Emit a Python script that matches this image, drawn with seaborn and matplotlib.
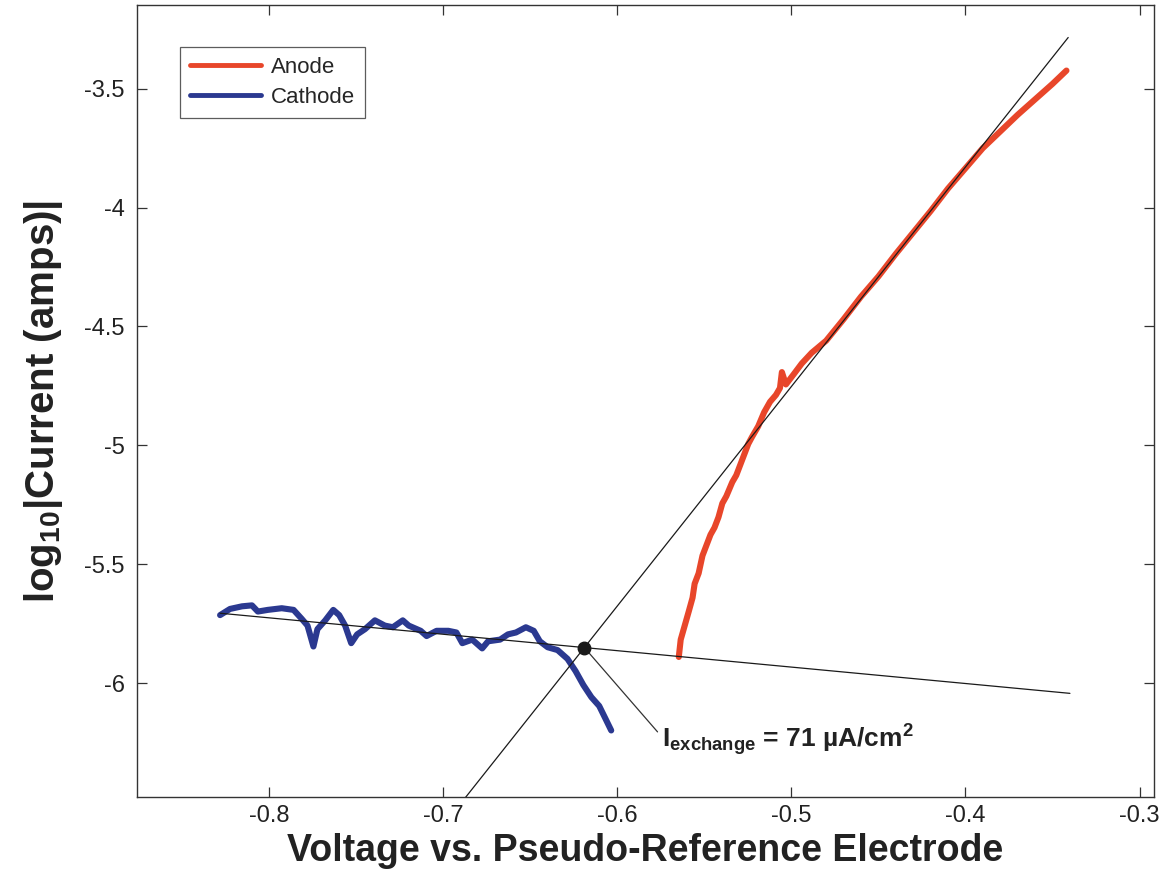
import numpy as np
import pandas as pd
import matplotlib
matplotlib.use("Agg")
import matplotlib.pyplot as plt
import seaborn as sns

# ---------------- data ----------------
cathode_v = [-0.8280, -0.8223, -0.8154, -0.8097, -0.8063, -0.8006, -0.7926, -0.7858,
             -0.7812, -0.7778, -0.7744, -0.7721, -0.7676, -0.7630, -0.7596, -0.7562,
             -0.7527, -0.7493, -0.7448, -0.7391, -0.7334, -0.7288, -0.7231, -0.7197,
             -0.7128, -0.7094, -0.7037, -0.6969, -0.6923, -0.6889, -0.6832, -0.6775,
             -0.6741, -0.6672, -0.6627, -0.6581, -0.6524, -0.6479, -0.6444, -0.6399,
             -0.6342, -0.6285, -0.6239, -0.6194, -0.6148, -0.6103, -0.6068, -0.6034]
cathode_logi = [-5.714, -5.688, -5.677, -5.673, -5.699, -5.692, -5.685, -5.692,
                -5.729, -5.758, -5.846, -5.773, -5.736, -5.692, -5.714, -5.758,
                -5.832, -5.795, -5.773, -5.736, -5.758, -5.765, -5.736, -5.758,
                -5.780, -5.802, -5.780, -5.780, -5.787, -5.832, -5.817, -5.854,
                -5.824, -5.817, -5.795, -5.787, -5.765, -5.780, -5.824, -5.849,
                -5.861, -5.898, -5.949, -6.008, -6.059, -6.096, -6.148, -6.199]

anode_v = [-0.5646, -0.5635, -0.5612, -0.5589, -0.5567, -0.5555, -0.5532, -0.5510,
           -0.5487, -0.5464, -0.5441, -0.5418, -0.5396, -0.5373, -0.5339, -0.5316,
           -0.5293, -0.5270, -0.5247, -0.5225, -0.5190, -0.5156, -0.5122, -0.5088,
           -0.5065, -0.5054, -0.5031, -0.4985, -0.4940, -0.4883, -0.4800, -0.4700,
           -0.4600, -0.4500, -0.4400, -0.4300, -0.4200, -0.4100, -0.4000, -0.3900,
           -0.3800, -0.3700, -0.3600, -0.3500, -0.3420]
anode_logi = [-5.890, -5.817, -5.758, -5.699, -5.641, -5.582, -5.538, -5.464,
              -5.420, -5.376, -5.346, -5.302, -5.244, -5.214, -5.155, -5.126,
              -5.082, -5.038, -4.994, -4.964, -4.920, -4.861, -4.817, -4.788,
              -4.759, -4.692, -4.744, -4.700, -4.656, -4.611, -4.560, -4.470,
              -4.375, -4.290, -4.195, -4.105, -4.015, -3.920, -3.835, -3.750,
              -3.680, -3.610, -3.545, -3.480, -3.424]

anode_fit_v = [-0.687, -0.341]
anode_fit_logi = [-6.48, -3.285]
cathode_fit_v = [-0.828, -0.340]
cathode_fit_logi = [-5.706, -6.043]

x_ticks = [-0.8, -0.7, -0.6, -0.5, -0.4, -0.3]
x_tick_labels = ["-0.8", "-0.7", "-0.6", "-0.5", "-0.4", "-0.3"]
y_ticks = [-6.0, -5.5, -5.0, -4.5, -4.0, -3.5]
y_tick_labels = ["-6", "-5.5", "-5", "-4.5", "-4", "-3.5"]

series_names = ["Anode", "Cathode"]
series_colors = {"Anode": "#E8462A", "Cathode": "#2B3990"}

annot_text = r"I$_{\mathbf{exchange}}$ = 71 µA/cm$^{\mathbf{2}}$"
annot_text_pos = (-0.5745, -6.24)
annot_line_end = (-0.5768, -6.205)

# ---------------- styling ----------------
sns.set_style("ticks")
plt.rcParams["font.family"] = ["Liberation Sans", "DejaVu Sans"]
plt.rcParams["mathtext.fontset"] = "custom"
plt.rcParams["mathtext.rm"] = "Liberation Sans"
plt.rcParams["mathtext.it"] = "Liberation Sans:italic"
plt.rcParams["mathtext.bf"] = "Liberation Sans:bold"

df = pd.concat([
    pd.DataFrame({"v": anode_v, "logi": anode_logi, "series": "Anode"}),
    pd.DataFrame({"v": cathode_v, "logi": cathode_logi, "series": "Cathode"}),
], ignore_index=True)

fig = plt.figure(figsize=(11.67, 8.75), dpi=100)
ax = fig.add_axes([0.1174, 0.0891, 0.8715, 0.905])

for name in series_names:
    sub = df[df["series"] == name]
    sns.lineplot(data=sub, x="v", y="logi", sort=False, estimator=None,
                 color=series_colors[name], lw=4.4, ax=ax, label=name, zorder=2)

# Tafel fit lines
ax.plot(anode_fit_v, anode_fit_logi, color="#1a1a1a", lw=0.9, zorder=3)
ax.plot(cathode_fit_v, cathode_fit_logi, color="#1a1a1a", lw=0.9, zorder=3)

# intersection of the two fits
sa = (anode_fit_logi[1] - anode_fit_logi[0]) / (anode_fit_v[1] - anode_fit_v[0])
sc = (cathode_fit_logi[1] - cathode_fit_logi[0]) / (cathode_fit_v[1] - cathode_fit_v[0])
ba = anode_fit_logi[0] - sa * anode_fit_v[0]
bc = cathode_fit_logi[0] - sc * cathode_fit_v[0]
vi = (bc - ba) / (sa - sc)
yi = sa * vi + ba
ax.plot([vi], [yi], "o", color="#1a1a1a", ms=9, zorder=5)
ax.plot([vi, annot_line_end[0]], [yi, annot_line_end[1]], color="#333333", lw=0.9, zorder=4)
ax.text(annot_text_pos[0], annot_text_pos[1], annot_text, fontsize=19,
        fontweight="bold", ha="left", va="center", color="#222222")

ax.set_xlim(-0.8757, -0.2917)
ax.set_ylim(-6.479, -3.149)
ax.set_xticks(x_ticks)
ax.set_xticklabels(x_tick_labels)
ax.set_yticks(y_ticks)
ax.set_yticklabels(y_tick_labels)
ax.tick_params(direction="in", top=True, right=True, length=7, width=0.9,
               labelsize=17, colors="#333333", labelcolor="#222222")
ax.tick_params(axis="x", pad=6)
ax.tick_params(axis="y", pad=9)
for sp in ax.spines.values():
    sp.set_color("#333333")
    sp.set_linewidth(1.0)

ax.set_xlabel("Voltage vs. Pseudo-Reference Electrode",
              fontsize=27, fontweight="bold", color="#222222", labelpad=4)
ax.set_ylabel(r"log$_{\mathbf{10}}$|Current (amps)|", fontsize=29,
              fontweight="bold", color="#222222", labelpad=14)

leg = ax.legend(loc="upper left", bbox_to_anchor=(0.042, 0.947), borderaxespad=0,
                fontsize=16, frameon=True, fancybox=False, handlelength=3.2,
                handletextpad=0.45, borderpad=0.45, labelspacing=0.4)
leg.get_frame().set_edgecolor("#333333")
leg.get_frame().set_linewidth(0.9)
for line in leg.get_lines():
    line.set_linewidth(3.5)

fig.savefig("out.png", dpi=100)
